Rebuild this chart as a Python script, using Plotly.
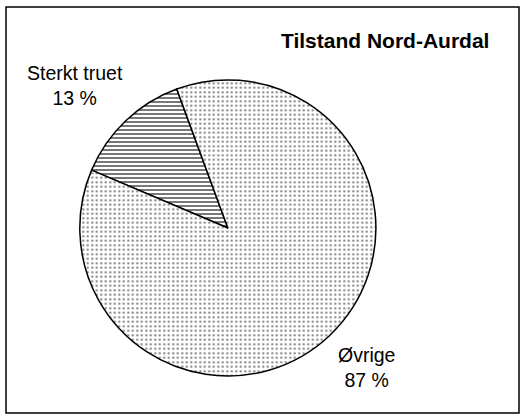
import plotly.graph_objects as go

categories = ["Sterkt truet", "Øvrige"]
values = [13, 87]
title_text = "Tilstand Nord-Aurdal"

total = sum(values)
pct = [f"{round(v / total * 100)} %" for v in values]

fig = go.Figure()

fig.add_trace(go.Pie(
    labels=categories,
    values=values,
    sort=False,
    direction="counterclockwise",
    rotation=-67,
    textinfo="none",
    hoverinfo="label+percent",
    showlegend=False,
    domain=dict(x=[0.152, 0.716], y=[0.096, 0.808]),
    marker=dict(
        colors=["white", "white"],
        line=dict(color="black", width=1.5),
        pattern=dict(
            shape=["-", "."],
            fgcolor=["#555555", "#808080"],
            bgcolor=["white", "white"],
            size=[4, 4.5],
            solidity=[0.4, 0.2],
        ),
    ),
))

# etiketter utenfor/inne i sektorene
label_pos = [(75, 85), (366, 367)]
for name, p, (lx, ly) in zip(categories, pct, label_pos):
    fig.add_annotation(
        x=lx / 525, y=1 - ly / 416, xref="paper", yref="paper",
        xanchor="center", yanchor="middle",
        text=f"{name}<br>{p}", showarrow=False,
        font=dict(size=19.5, color="black", family="Liberation Sans, Arial"),
        align="center",
    )

fig.add_annotation(
    x=385 / 525, y=1 - 40 / 416, xref="paper", yref="paper",
    xanchor="center", yanchor="middle",
    text=f"<b>{title_text}</b>", showarrow=False,
    font=dict(size=21, color="black", family="Liberation Sans, Arial"),
)

# ramme rundt diagrammet
fig.add_shape(
    type="rect", xref="paper", yref="paper",
    x0=6 / 525, x1=519 / 525, y0=1 - 413 / 416, y1=1 - 7 / 416,
    line=dict(color="black", width=1.5), fillcolor="rgba(0,0,0,0)",
)

fig.update_layout(
    width=525, height=416,
    margin=dict(l=0, r=0, t=0, b=0),
    paper_bgcolor="white", plot_bgcolor="white",
    font=dict(family="Liberation Sans, Arial"),
)

fig.write_html("out.html", config={"displayModeBar": False},
               post_script="document.body.style.margin='0';")
